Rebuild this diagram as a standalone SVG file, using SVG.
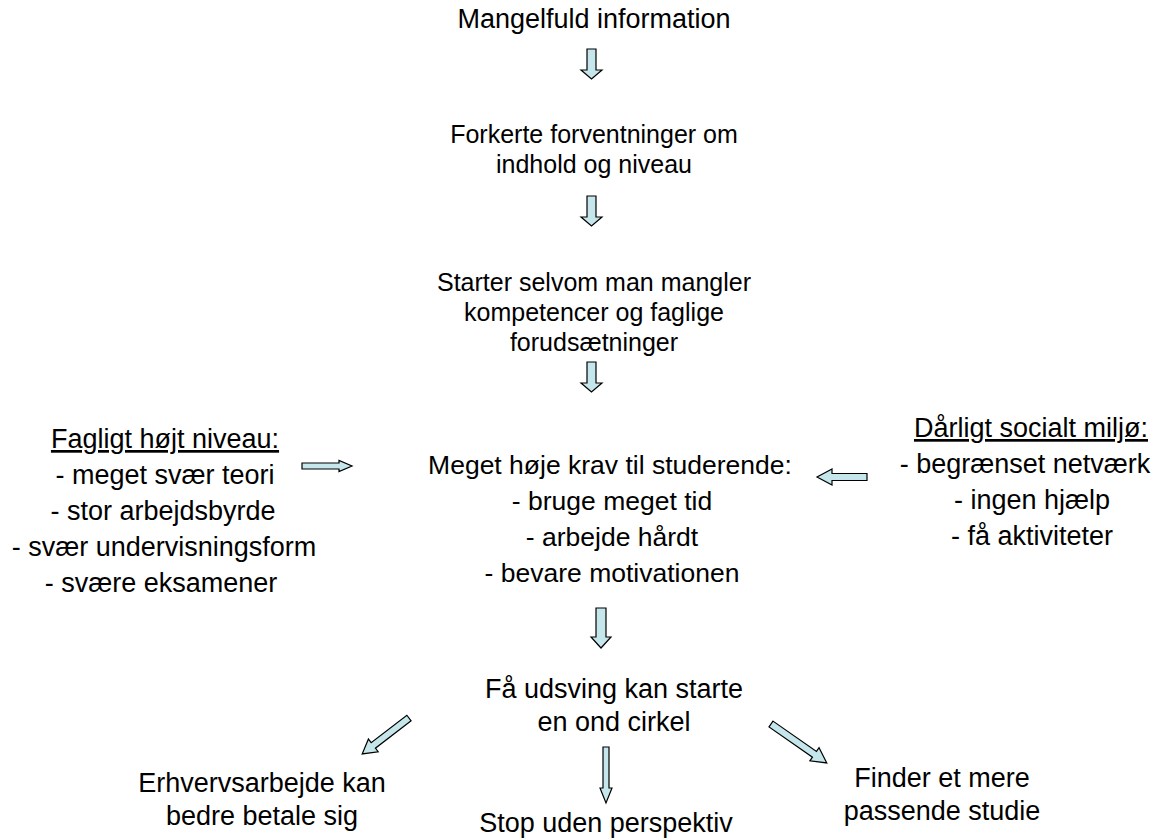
<svg xmlns="http://www.w3.org/2000/svg" width="1159" height="840" viewBox="0 0 1159 840">
<style>
text{font-family:"Liberation Sans",Arial,sans-serif;font-size:27px;fill:#000;text-anchor:middle}
.s{font-size:25px}
.m{font-size:26.5px}
.u{text-decoration:underline}
.arr{fill:#C5E6EA;stroke:#000;stroke-width:1.2;stroke-linejoin:miter}
</style>
<rect width="1159" height="840" fill="#fff"/>
<g id="n1"><text x="594" y="28">Mangelfuld information</text></g>
<g id="n2"><text class="s" x="594" y="143">Forkerte forventninger om</text><text class="s" x="594" y="173">indhold og niveau</text></g>
<g id="n3"><text class="s" x="594" y="291">Starter selvom man mangler</text><text class="s" x="594" y="321">kompetencer og faglige</text><text class="s" x="594" y="351">forudsætninger</text></g>
<g id="n4"><text class="m" x="610" y="474">Meget høje krav til studerende:</text><text class="m" x="612" y="510">- bruge meget tid</text><text class="m" x="612" y="546">- arbejde hårdt</text><text class="m" x="612" y="582">- bevare motivationen</text></g>
<g id="n5"><text class="u" x="165" y="448">Fagligt højt niveau:</text><text x="165" y="484">- meget svær teori</text><text x="163" y="520">- stor arbejdsbyrde</text><text x="164" y="556">- svær undervisningsform</text><text x="161" y="592">- svære eksamener</text></g>
<g id="n6"><text class="u" x="1031" y="437">Dårligt socialt miljø:</text><text x="1025" y="473">- begrænset netværk</text><text x="1032" y="509">- ingen hjælp</text><text x="1032" y="545">- få aktiviteter</text></g>
<g id="n7"><text x="614" y="698">Få udsving kan starte</text><text x="614" y="731">en ond cirkel</text></g>
<g id="n8"><text x="262" y="792">Erhvervsarbejde kan</text><text x="262" y="825">bedre betale sig</text></g>
<g id="n9"><text x="606" y="832">Stop uden perspektiv</text></g>
<g id="n10"><text x="942" y="787">Finder et mere</text><text x="942" y="820">passende studie</text></g>
<g id="connectors">
<polygon class="arr" points="587,49 596,49 596,70 602,70 591.5,79 581,70 587,70"/>
<polygon class="arr" points="587,196 596,196 596,217 602,217 591.5,226 581,217 587,217"/>
<polygon class="arr" points="587,362 596,362 596,383 602,383 591.5,392 581,383 587,383"/>
<polygon class="arr" points="596,608 606,608 606,637 611,637 601,648 591,637 596,637"/>
<polygon class="arr" points="603,747 609,747 609,788 612,788 606,803 600,788 603,788"/>
<polygon class="arr" points="302,463 339,463 339,460.5 352,466 339,471.5 339,469 302,469"/>
<polygon class="arr" points="867,473.5 832,473.5 832,469 817,477 832,485 832,480.5 867,480.5"/>
<polygon class="arr" transform="translate(409,718) rotate(142.5)" points="0,-3.5 45,-3.5 45,-8 59,0 45,8 45,3.5 0,3.5"/>
<polygon class="arr" transform="translate(771,724) rotate(34.9)" points="0,-3.5 53,-3.5 53,-8 68,0 53,8 53,3.5 0,3.5"/>
</g>
</svg>
